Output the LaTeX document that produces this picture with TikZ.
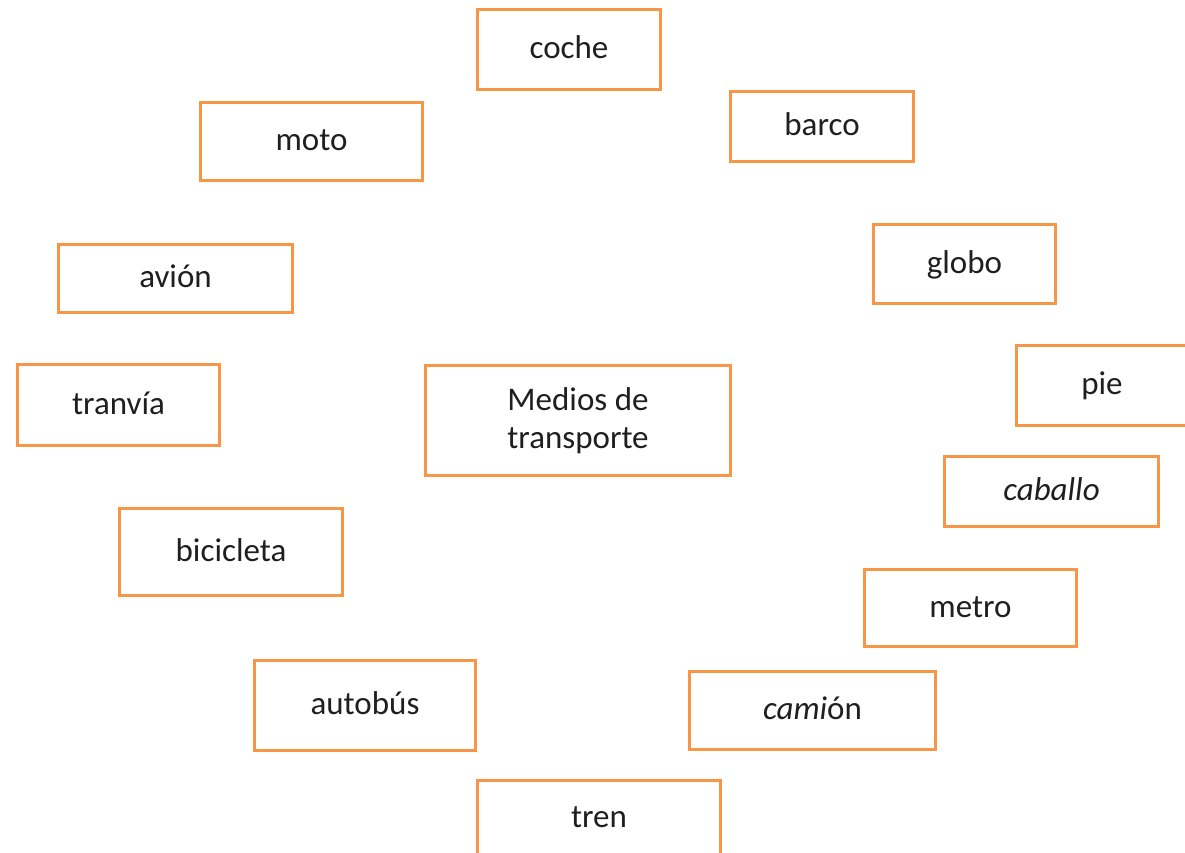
\documentclass[tikz,border=0pt]{standalone}
\usepackage{fontspec}
\setmainfont{Carlito}
\definecolor{boxorange}{HTML}{F79646}
\tikzset{
  wordbox/.style={draw=boxorange, line width=3pt, rectangle, inner sep=0pt,
    font=\fontsize{33}{38}\selectfont, text=black!88,
    text height=18pt, text depth=0pt},
}
\begin{document}
\begin{tikzpicture}[x=1pt,y=-1pt]
\useasboundingbox (0,0) rectangle (1185,852);
\fill[white] (0,0) rectangle (1185,852);
\clip (0,0) rectangle (1185,852);
\node[wordbox, minimum width=183pt, minimum height=80pt] (coche) at (569,49.5) {coche};
\node[wordbox, minimum width=222pt, minimum height=78pt] (moto) at (311.5,141.5) {moto};
\node[wordbox, minimum width=183pt, minimum height=70pt] (barco) at (822,126.5) {barco};
\node[wordbox, minimum width=234pt, minimum height=68pt] (avion) at (175.5,278.5) {avión};
\node[wordbox, minimum width=182pt, minimum height=79pt] (globo) at (964.5,264) {globo};
\node[wordbox, minimum width=202pt, minimum height=81pt] (tranvia) at (118.5,405) {tranvía};
\node[wordbox, minimum width=305pt, minimum height=110pt, text height={}, text depth={}, align=center] (medios) at (578,420.5) {Medios de\\transporte};
\node[wordbox, minimum width=171pt, minimum height=80pt] (pie) at (1102,385.5) {pie};
\node[wordbox, minimum width=214pt, minimum height=70pt] (caballo) at (1051.5,491.5) {\itshape caballo};
\node[wordbox, minimum width=223pt, minimum height=87pt] (bicicleta) at (231,552) {bicicleta};
\node[wordbox, minimum width=212pt, minimum height=77pt] (metro) at (970.5,608) {metro};
\node[wordbox, minimum width=221pt, minimum height=90pt] (autobus) at (365,705.5) {autobús};
\node[wordbox, minimum width=246pt, minimum height=78pt] (camion) at (812.5,710.5) {{\itshape cami}ón};
\node[wordbox, minimum width=243pt, minimum height=75pt] (tren) at (599,818) {tren};
\end{tikzpicture}
\end{document}
